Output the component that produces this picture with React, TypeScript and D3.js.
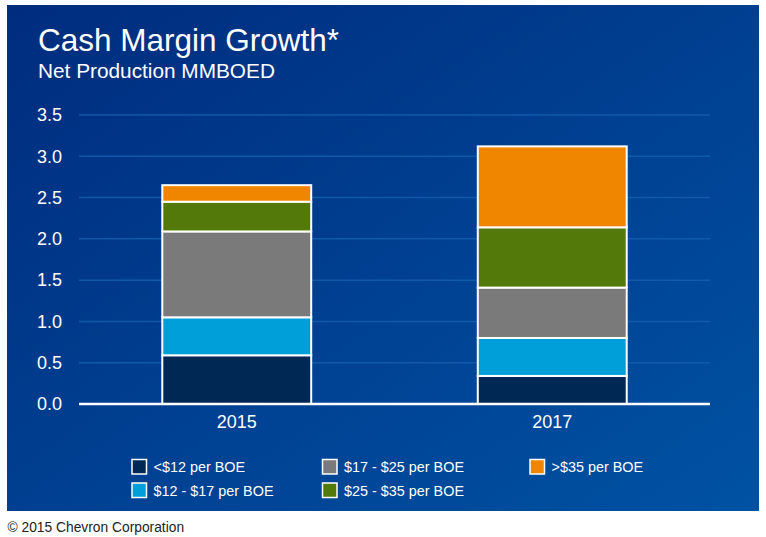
import React from "react";
import * as d3 from "d3";

const categories = ["2015", "2017"];
const seriesNames = ["<$12 per BOE", "$12 - $17 per BOE", "$17 - $25 per BOE", "$25 - $35 per BOE", ">$35 per BOE"];
const seriesKeys = ["lt12", "s12to17", "s17to25", "s25to35", "gt35"];
const lt12 = [0.59, 0.34];
const s12to17 = [0.46, 0.46];
const s17to25 = [1.04, 0.61];
const s25to35 = [0.36, 0.73];
const gt35 = [0.2, 0.98];
const yTicks = [0, 0.5, 1.0, 1.5, 2.0, 2.5, 3.0, 3.5];
const colors = ["#002855", "#009fda", "#7a7a7a", "#52790a", "#f08600"];

const W = 766;
const H = 537;

export default function App() {
  const seriesArr = [lt12, s12to17, s17to25, s25to35, gt35];
  const rows = categories.map((c, i) => {
    const r: any = { cat: c };
    seriesKeys.forEach((k, j) => (r[k] = seriesArr[j][i]));
    return r;
  });
  const stacked = d3.stack().keys(seriesKeys)(rows);

  const x = d3.scaleBand().domain(categories).range([79, 710]).paddingInner(0.528).paddingOuter(0.264);
  const y = d3.scaleLinear().domain([0, 3.5]).range([404, 115]);

  const font = "'Liberation Sans', Arial, Helvetica, sans-serif";

  const legendPos = [
    { x: 132, y: 459.5 },
    { x: 132, y: 483 },
    { x: 322.5, y: 459.5 },
    { x: 322.5, y: 483 },
    { x: 530, y: 459.5 },
  ];

  return (
    <div style={{ position: "absolute", left: 0, top: 0 }}>
      <svg width={W} height={H} style={{ display: "block" }} fontFamily={font}>
        <defs>
          <linearGradient id="bg" x1="0" y1="0" x2="1" y2="1">
            <stop offset="0" stopColor="#002c7e" />
            <stop offset="1" stopColor="#0052a3" />
          </linearGradient>
        </defs>
        <rect x={0} y={0} width={W} height={H} fill="#ffffff" />
        <rect x={7} y={5} width={752} height={506} fill="url(#bg)" />

        <text x={38} y={51} fill="#ffffff" fontSize={31.5}>Cash Margin Growth*</text>
        <text x={38} y={78} fill="#ffffff" fontSize={20.8}>Net Production MMBOED</text>

        {yTicks.map((t) => (
          <g key={t}>
            {t > 0 && (
              <line x1={79} x2={710} y1={y(t)} y2={y(t)} stroke="#1560b0" strokeWidth={1.5} opacity={0.8} />
            )}
            <text x={62} y={y(t)} dy="0.35em" textAnchor="end" fill="#ffffff" fontSize={18}>
              {t.toFixed(1)}
            </text>
          </g>
        ))}

        {stacked.map((s, si) =>
          s.map((d, di) => {
            const cat = categories[di];
            const bx = x(cat)!;
            const top = y(d[1]);
            const bot = y(d[0]);
            return (
              <rect
                key={`${si}-${di}`}
                x={bx}
                y={top}
                width={x.bandwidth()}
                height={bot - top}
                fill={colors[si]}
                stroke="#ffffff"
                strokeWidth={2}
              />
            );
          })
        )}

        <line x1={79} x2={710} y1={404} y2={404} stroke="#ffffff" strokeWidth={2.5} />

        {categories.map((c) => (
          <text key={c} x={x(c)! + x.bandwidth() / 2} y={428} textAnchor="middle" fill="#ffffff" fontSize={18}>
            {c}
          </text>
        ))}

        {seriesNames.map((n, i) => (
          <g key={n}>
            <rect x={legendPos[i].x} y={legendPos[i].y} width={14.5} height={14.5} fill={colors[i]} stroke="#ffffff" strokeWidth={1.5} />
            <text x={legendPos[i].x + 21.5} y={legendPos[i].y + 12.5} fill="#ffffff" fontSize={14.4}>
              {n}
            </text>
          </g>
        ))}

        <text x={7.5} y={532} fill="#222222" fontSize={13.8}>© 2015 Chevron Corporation</text>
      </svg>
    </div>
  );
}
